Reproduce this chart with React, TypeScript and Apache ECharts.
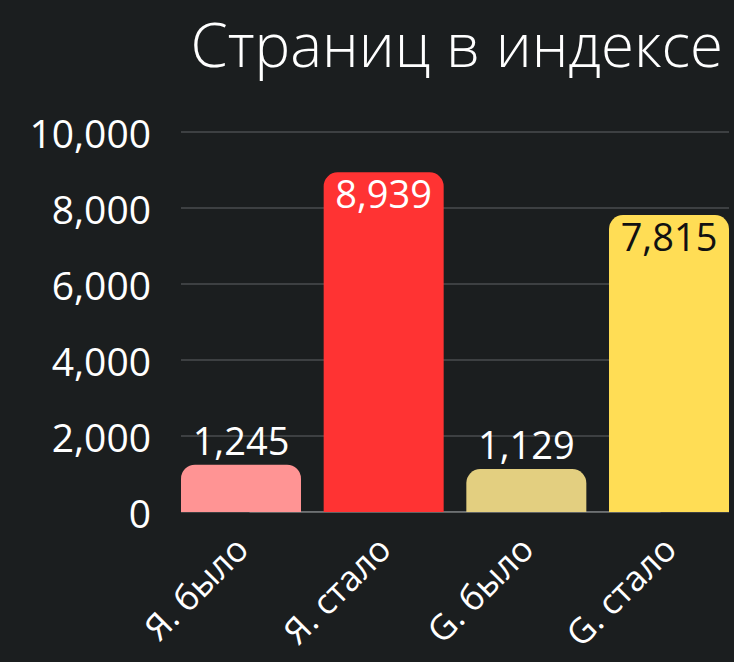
import React, { useEffect, useRef } from "react";
import * as echarts from "echarts";

const title = "Страниц в индексе";
const categories = ["Я. было", "Я. стало", "G. было", "G. стало"];
const values = [1245, 8939, 1129, 7815];
const barColors = ["#ff9494", "#ff3333", "#e3cf80", "#ffdd55"];
const labelInside = [false, true, false, true];
const labelColors = ["#ffffff", "#ffffff", "#ffffff", "#111111"];
const yTicks = { min: 0, max: 10000, interval: 2000 };

const FONT = "'Open Sans', 'Noto Sans', sans-serif";

export default function App() {
  const ref = useRef<HTMLDivElement>(null);
  useEffect(() => {
    if (!ref.current) return;
    const chart = echarts.init(ref.current, null, { renderer: "svg" });
    const fmt = (v: number) => v.toLocaleString("en-US");
    chart.setOption({
      animation: false,
      backgroundColor: "#1b1e1f",
      textStyle: { fontFamily: FONT },
      title: {
        text: title,
        right: 6,
        top: 9,
        textStyle: { color: "#ffffff", fontSize: 60, fontWeight: 300, fontFamily: FONT },
      },
      grid: [
        { left: 181, right: 5, top: 132, height: 380, containLabel: false },
        { left: 241, right: 65, top: 132, height: 380, containLabel: false },
      ],
      xAxis: [
        { type: "category", gridIndex: 0, data: categories, show: false },
        {
          type: "category",
          gridIndex: 1,
          data: categories,
          boundaryGap: false,
          axisLine: { show: false },
          axisTick: { show: false },
          axisLabel: {
            rotate: 45,
            color: "#ffffff",
            fontSize: 35,
            fontFamily: FONT,
            margin: 30,
          },
        },
      ],
      yAxis: [
        {
          type: "value",
          gridIndex: 0,
          min: yTicks.min,
          max: yTicks.max,
          interval: yTicks.interval,
          axisLine: { show: false },
          axisTick: { show: false },
          axisLabel: {
            color: "#ffffff",
            fontSize: 39,
            fontFamily: FONT,
            margin: 30,
            formatter: (v: number) => fmt(v),
          },
          splitLine: { lineStyle: { color: "#4a4d4f", width: 1.5 } },
        },
        {
          type: "value",
          gridIndex: 1,
          min: yTicks.min,
          max: yTicks.max,
          interval: yTicks.interval,
          show: false,
          splitLine: { show: false },
        },
      ],
      series: [
        {
          type: "line",
          xAxisIndex: 0,
          yAxisIndex: 0,
          data: [0, 0, 0, 0],
          symbol: "none",
          silent: true,
          lineStyle: { color: "#7d8082", width: 1.5 },
          z: 1,
        },
        {
          type: "bar",
          xAxisIndex: 1,
          yAxisIndex: 1,
          barWidth: 120,
          clip: false,
          z: 3,
          data: values.map((v, i) => ({
            value: v,
            itemStyle: { color: barColors[i], borderRadius: [14, 14, 0, 0] },
            label: {
              show: true,
              position: labelInside[i] ? "insideTop" : "top",
              distance: labelInside[i] ? 2 : 6,
              color: labelColors[i],
              fontSize: 38,
              fontFamily: FONT,
              formatter: () => fmt(v),
            },
          })),
        },
      ],
    });
    return () => chart.dispose();
  }, []);
  return (
    <div
      ref={ref}
      style={{ position: "fixed", left: 0, top: 0, width: 734, height: 662 }}
    />
  );
}
